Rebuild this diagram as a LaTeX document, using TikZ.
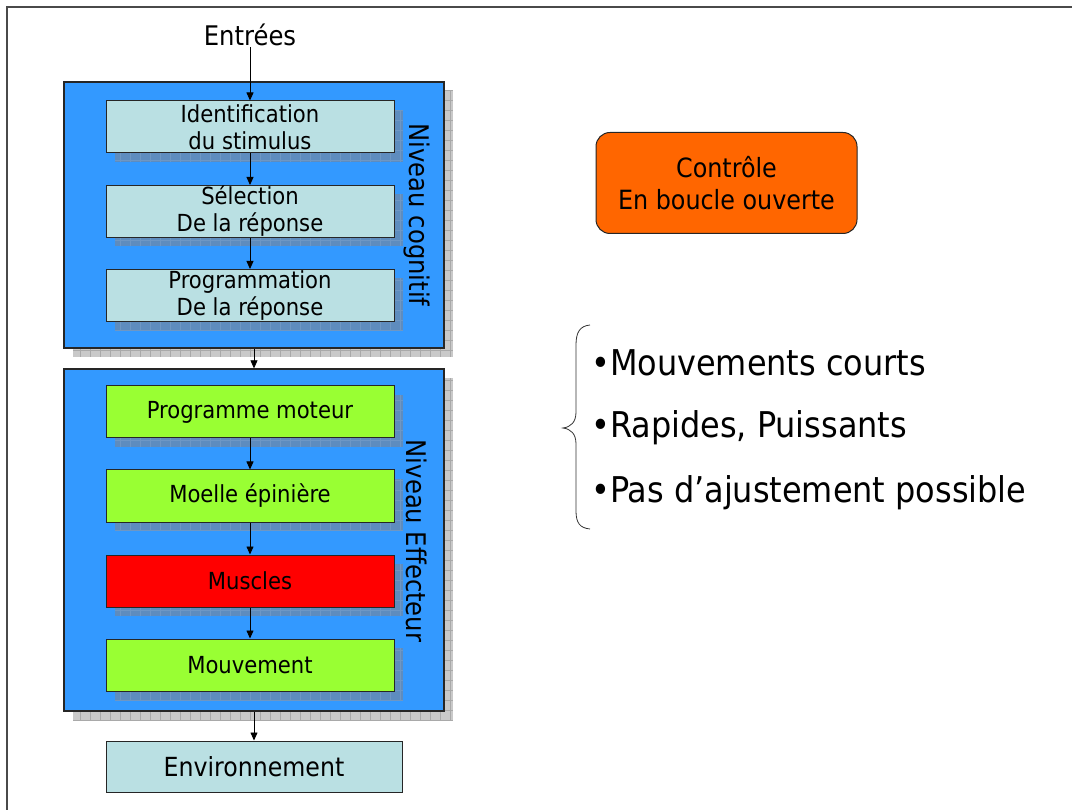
\documentclass[tikz,border=0pt]{standalone}
\usepackage{fontspec}
\setmainfont{DejaVu Sans Condensed}
\usetikzlibrary{arrows.meta}

\definecolor{frameline}{HTML}{4A4A4A}
\definecolor{levelblue}{HTML}{3399FF}
\definecolor{paleteal}{HTML}{BAE0E3}
\definecolor{limegreen}{HTML}{99FF33}
\definecolor{musclered}{HTML}{FF0000}
\definecolor{ctrlorange}{HTML}{FF6600}
\definecolor{shadegrey}{HTML}{C9C9C9}
\definecolor{shadegrid}{HTML}{A9A9A9}
\definecolor{shadeblue}{HTML}{5E8CBE}
\definecolor{shadebluegrid}{HTML}{6E97C4}

% grey chequered drop shadow: #1,#2 top-left, #3,#4 bottom-right, #5 fill, #6 grid colour
\newcommand{\gridshadow}[6]{%
  \begin{scope}
    \clip (#1,#2) rectangle (#3,#4);
    \fill[#5] (#1,#2) rectangle (#3,#4);
    \draw[#6, line width=0.7pt, step=10pt] (#1,#2) grid (#3,#4);
  \end{scope}}

\begin{document}
\begin{tikzpicture}[x=1pt,y=-1pt,
  levelbox/.style={draw=black!85, line width=1.3pt, fill=levelblue,
    minimum width=380pt, inner sep=0pt},
  stepbox/.style={draw=black!85, line width=1pt, minimum width=288pt,
    minimum height=52pt, inner sep=0pt, align=center,
    font=\fontsize{23.5}{27}\selectfont},
  flow/.style={-{Triangle[length=8pt,width=7pt]}, line width=0.8pt},
  sidelabel/.style={rotate=-90, font=\fontsize{27}{30}\selectfont, inner sep=0pt},
  bullet/.style={anchor=west, inner sep=0pt, font=\fontsize{35.5}{40}\selectfont}]

\useasboundingbox (0,0) rectangle (1072,810);

% page frame (top and left edges)
\draw[frameline, line width=1.5pt] (1072,7) -- (7,7) -- (7,810);

% ---- outer level boxes with their shadows ----
\gridshadow{73}{90}{453}{357}{shadegrey}{shadegrid}
\gridshadow{73}{378}{453}{720}{shadegrey}{shadegrid}
\node[levelbox, minimum height=266pt] (cog) at (254,215) {};
\node[levelbox, minimum height=342pt] (eff) at (254,540) {};

% ---- shadows of the step boxes ----
\foreach \cy in {127,211.5,295.5,412,496,581,665}{
  \gridshadow{115}{\cy-17}{403}{\cy+35}{shadeblue}{shadebluegrid}
}

% ---- step boxes ----
\node[stepbox, fill=paleteal] (ident) at (250,127) {Identification\\du stimulus};
\node[stepbox, fill=paleteal] (sel) at (250,211.5) {Sélection\\De la réponse};
\node[stepbox, fill=paleteal] (prog) at (250,295.5) {Programmation\\De la réponse};

\node[stepbox, fill=limegreen] (pm) at (250,412) {Programme moteur};
\node[stepbox, fill=limegreen] (moelle) at (250,496) {Moelle épinière};
\node[stepbox, fill=musclered] (muscles) at (250,581) {Muscles};
\node[stepbox, fill=limegreen] (mouv) at (250,665) {Mouvement};

\node[stepbox, fill=paleteal, minimum width=296pt, minimum height=51pt,
      font=\fontsize{26.3}{30}\selectfont] (env) at (254,766.5) {Environnement};

% ---- level labels ----
\node[sidelabel] (lcog) at (417,215) {Niveau cognitif};
\node[sidelabel] (leff) at (417,541) {Niveau Effecteur};

% ---- inputs and flow ----
\node[font=\fontsize{27}{30}\selectfont, inner sep=1pt] (entrees) at (250,35) {Entrées};
\draw[flow] (entrees) -- (ident);
\draw[flow] (ident) -- (sel);
\draw[flow] (sel) -- (prog);
\draw[flow] (cog) -- (eff);
\draw[flow] (pm) -- (moelle);
\draw[flow] (moelle) -- (muscles);
\draw[flow] (muscles) -- (mouv);
\draw[flow] (eff) -- (env);

% ---- control mode ----
\node[draw=black!85, line width=1pt, fill=ctrlorange, rounded corners=14pt,
      minimum width=261pt, minimum height=101pt, align=center,
      font=\fontsize{26.5}{32}\selectfont] (ctrl) at (726.5,183)
      {Contrôle\\En boucle ouverte};

% ---- brace and properties ----
\draw[line width=0.8pt, black!80]
  (590,325) .. controls (580,326) and (576,332) .. (576,345)
  -- (576,412) .. controls (576,422) and (571,427) .. (563,428)
  .. controls (571,429) and (576,434) .. (576,444)
  -- (576,511) .. controls (576,523) and (580,528) .. (590,529);

\node[bullet] (p1) at (591,363) {•Mouvements courts};
\node[bullet] (p2) at (591,428) {•Rapides, Puissants};
\node[bullet] (p3) at (591,493) {•Pas d’ajustement possible};

\end{tikzpicture}
\end{document}
